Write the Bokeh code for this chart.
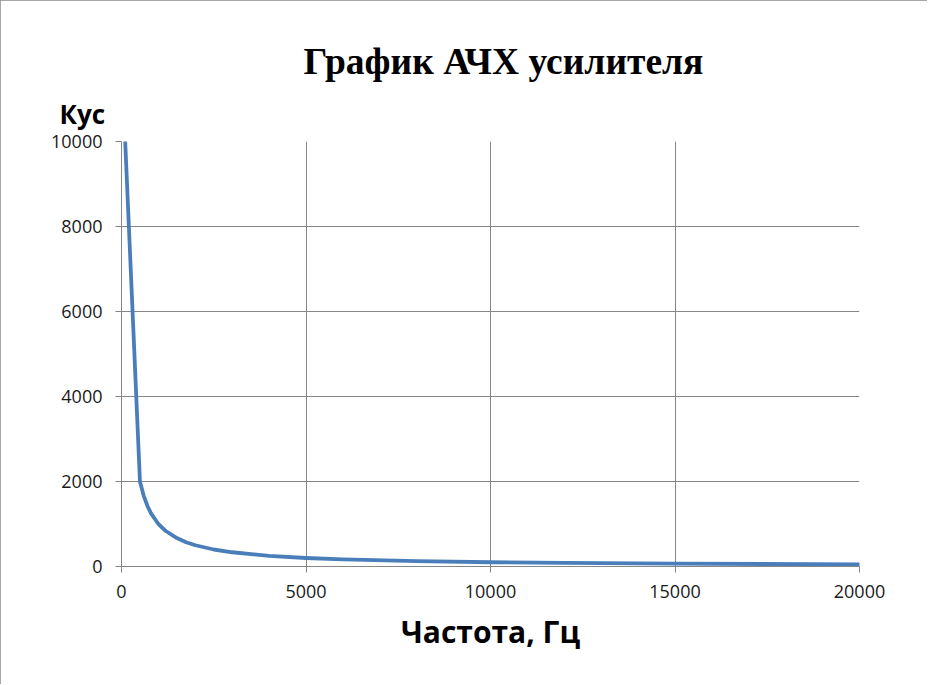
from bokeh.plotting import figure
from bokeh.models import Range1d, FixedTicker, Title
from bokeh.embed import file_html
from bokeh.resources import INLINE

# Data
freq_hz = [100, 500, 600, 700, 800, 1000, 1200, 1500, 1750, 2000, 2500, 3000, 4000, 5000,
           6000, 8000, 10000, 12000, 15000, 20000]
kus = [10000, 2000, 1670, 1430, 1250, 1000, 835, 670, 570, 500, 400, 335, 250, 200,
       167, 125, 100, 85, 67, 50]

x_ticks = [0, 5000, 10000, 15000, 20000]
y_ticks = [0, 2000, 4000, 6000, 8000, 10000]

title_text = "График АЧХ усилителя"
y_label_text = "Кус"
x_label_text = "Частота, Гц"

W, H = 927, 684
FL, FR, FT, FB = 121, 68, 141, 118

p = figure(width=W, height=H, output_backend="svg", toolbar_location=None,
           x_range=Range1d(0, 20000), y_range=Range1d(0, 10000),
           min_border_left=FL, min_border_right=FR, min_border_top=FT, min_border_bottom=FB)
p.title.visible = False
p.background_fill_color = "white"
p.border_fill_color = "white"
p.outline_line_color = None
p.styles = {"outline": "2px solid #8a8a8a", "outline-offset": "-2px"}

grid_col = "#868686"
for ax in (p.xaxis[0], p.yaxis[0]):
    ax.axis_line_color = grid_col
    ax.major_tick_line_color = grid_col
    ax.major_tick_out = 6
    ax.major_tick_in = 0
    ax.minor_tick_line_color = None
    ax.major_label_text_font = "Open Sans"
    ax.major_label_text_font_size = "18px"
    ax.major_label_text_color = "#1a1a1a"

p.xaxis.ticker = FixedTicker(ticks=x_ticks)
p.yaxis.ticker = FixedTicker(ticks=y_ticks)
p.xaxis.major_label_standoff = 12
p.yaxis.major_label_standoff = 13

p.xaxis.axis_label = x_label_text
p.xaxis.axis_label_text_font = "Open Sans"
p.xaxis.axis_label_text_font_style = "bold"
p.xaxis.axis_label_text_font_size = "30px"
p.xaxis.axis_label_text_color = "black"
p.xaxis.axis_label_standoff = 10

p.xgrid.ticker = FixedTicker(ticks=x_ticks)
p.ygrid.ticker = FixedTicker(ticks=y_ticks)
p.xgrid.grid_line_color = grid_col
p.ygrid.grid_line_color = grid_col
p.xgrid.grid_line_width = 1
p.ygrid.grid_line_width = 1

p.line(freq_hz, kus, line_color="#4A7EBB", line_width=3.8, line_join="round", line_cap="round")

p.add_layout(Title(text=y_label_text, align="left", offset=-62, standoff=20,
                   text_font="Open Sans", text_font_style="bold", text_font_size="26px",
                   text_color="black"), "above")
p.add_layout(Title(text=title_text, align="left", offset=182, standoff=4,
                   text_font="Liberation Serif", text_font_style="bold", text_font_size="37.5px",
                   text_color="black"), "above")

open("out.html", "w").write(file_html(p, INLINE))
